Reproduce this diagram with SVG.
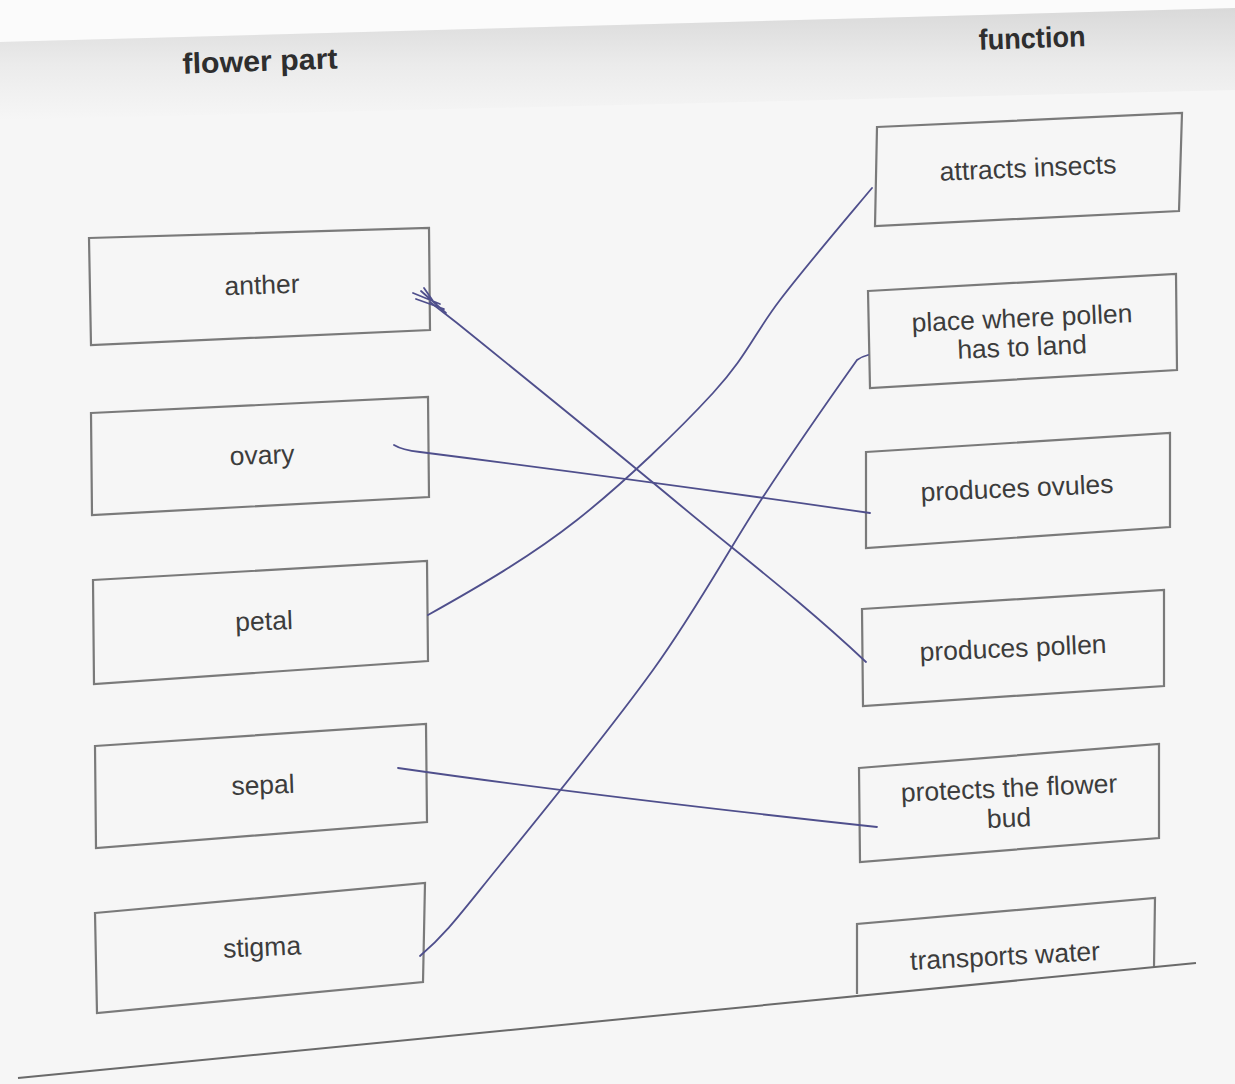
<svg xmlns="http://www.w3.org/2000/svg" width="1235" height="1084" viewBox="0 0 1235 1084">
<defs>
<linearGradient id="band" x1="0" y1="0" x2="0" y2="1">
<stop offset="0" stop-color="#d9d9d9"/>
<stop offset="0.5" stop-color="#ebebeb"/>
<stop offset="1" stop-color="#f6f6f6"/>
</linearGradient>
<style>
.box{fill:none;stroke:#7a7a7a;stroke-width:2.2;stroke-linejoin:miter}
.lbl{font-family:"Liberation Sans",Arial,sans-serif;font-size:26.5px;fill:#3c3c3c;text-anchor:middle}
.hdr{font-family:"Liberation Sans",Arial,sans-serif;font-size:29px;font-weight:bold;fill:#2e2e2e;text-anchor:middle}
.pen{fill:none;stroke:#4f4f8c;stroke-width:1.8;stroke-linecap:round;stroke-linejoin:round}
</style>
</defs>
<rect x="0" y="0" width="1235" height="1084" fill="#f6f6f6"/>
<polygon points="0,0 1235,0 1235,8 0,42" fill="#fbfbfb"/>
<polygon points="0,42 1235,8 1235,90 0,120" fill="url(#band)"/>
<text class="hdr" x="260" y="71" textLength="155" lengthAdjust="spacingAndGlyphs" transform="rotate(-2 260 62)">flower part</text>
<text class="hdr" x="1032" y="48" textLength="107" lengthAdjust="spacingAndGlyphs" transform="rotate(-2 1032 38)">function</text>
<g id="anther"><polygon class="box" points="89,238 429,228 430,330 91,345"/><text class="lbl" x="262" y="294" transform="rotate(-2 262 285)">anther</text></g>
<g id="ovary"><polygon class="box" points="91,413 428,397 429,497 92,515"/><text class="lbl" x="262" y="464" transform="rotate(-2 262 455)">ovary</text></g>
<g id="petal"><polygon class="box" points="93,580 427,561 428,661 94,684"/><text class="lbl" x="264" y="630" transform="rotate(-2 264 621)">petal</text></g>
<g id="sepal"><polygon class="box" points="95,746 426,724 427,822 96,848"/><text class="lbl" x="263" y="794" transform="rotate(-2 263 785)">sepal</text></g>
<g id="stigma"><polygon class="box" points="95,913 425,883 423,982 97,1013"/><text class="lbl" x="262" y="956" transform="rotate(-2.5 262 947)">stigma</text></g>
<g id="attracts"><polygon class="box" points="877,127 1182,113 1179,211 875,226"/><text class="lbl" x="1028" y="177" transform="rotate(-2.5 1028 168)">attracts insects</text></g>
<g id="place"><polygon class="box" points="868,291 1176,274 1177,370 870,388"/><text class="lbl" x="1022" y="327" transform="rotate(-2.5 1022 318)">place where pollen</text><text class="lbl" x="1022" y="356" transform="rotate(-2.5 1022 347)">has to land</text></g>
<g id="ovules"><polygon class="box" points="866,452 1170,433 1170,527 866,548"/><text class="lbl" x="1017" y="497" transform="rotate(-2.5 1017 488)">produces ovules</text></g>
<g id="pollen"><polygon class="box" points="862,609 1164,590 1164,686 863,706"/><text class="lbl" x="1013" y="657" transform="rotate(-2.5 1013 648)">produces pollen</text></g>
<g id="protects"><polygon class="box" points="859,768 1159,744 1159,838 860,862"/><text class="lbl" x="1009" y="797" transform="rotate(-2.5 1009 788)">protects the flower</text><text class="lbl" x="1009" y="827" transform="rotate(-2.5 1009 818)">bud</text></g>
<g id="transports"><polyline class="box" points="857,994 857,924 1155,898 1154,967"/><text class="lbl" x="1005" y="965" transform="rotate(-3 1005 956)">transports water</text></g>
<g id="baseline"><line x1="18" y1="1078" x2="1196" y2="963" stroke="#6a6a6a" stroke-width="2"/></g>
<g id="connectors">
<path class="pen" d="M413,293 L440,304 M416,299 L444,309 M424,288 L433,301 M421,291 L446,313"/>
<path class="pen" d="M430,302 L457,323 C540,390 620,455 680,505 C740,555 800,600 866,662"/>
<path class="pen" d="M394,445 Q402,450 420,452 Q640,480 870,513"/>
<path class="pen" d="M428,615 C478,587 530,557 577,520 C624,483 679,430 713,393 C747,356 754,334 780,300 C806,266 841,225 872,188"/>
<path class="pen" d="M398,768 Q600,797 877,827"/>
<path class="pen" d="M420,956 C447,933 461,913 500,865 C539,817 609,731 653,670 C697,609 729,549 763,497 C797,445 840,384 857,360 C861,357 864,356 868,355"/>
</g>
</svg>
